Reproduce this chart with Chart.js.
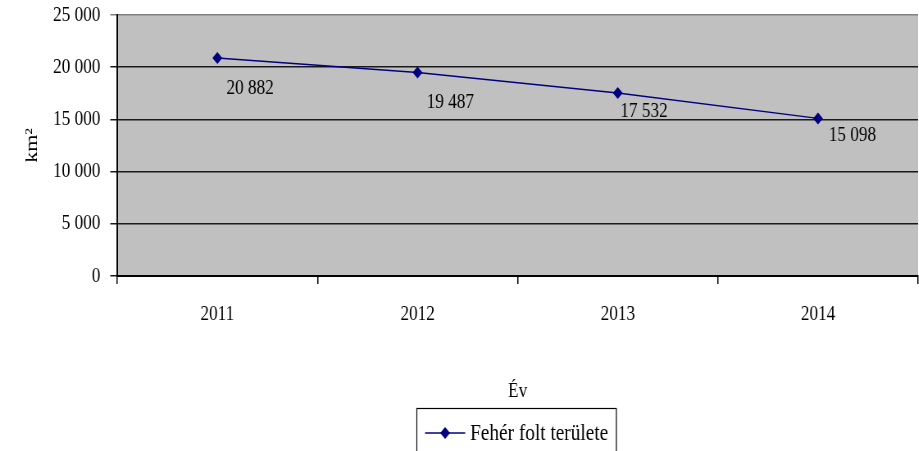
<!DOCTYPE html>
<html>
<head>
<meta charset="utf-8">
<script src="https://cdn.jsdelivr.net/npm/chart.js@4/dist/chart.umd.min.js"></script>
<style>
  html, body { margin: 0; padding: 0; background: #fff; overflow: hidden; }
  /* the original picture is squeezed sideways, so the canvas is drawn wider and shrunk */
  #chart { display: block; width: 923px !important; height: 451px !important; }
</style>
</head>
<body>
<canvas id="chart" width="1126" height="451"></canvas>
<script>
// data
const years = ['2011', '2012', '2013', '2014'];
const feherFolt = [20882, 19487, 17532, 15098];
const seriesName = 'Fehér folt területe';
const yTicks = [0, 5000, 10000, 15000, 20000, 25000];

const FONT = "'Liberation Serif', 'Times New Roman', serif";
const FSIZE = 21;
const NAVY = '#000080';

// 20882 -> "20 882"
function fmt(v) {
    return String(v).replace(/\B(?=(\d{3})+(?!\d))/g, ' ');
}

// grey plot background
const plotBg = {
    id: 'plotBg',
    beforeDraw(chart) {
        const { ctx, chartArea: a } = chart;
        ctx.save();
        ctx.fillStyle = '#c0c0c0';
        ctx.fillRect(a.left, a.top, a.right - a.left, a.bottom - a.top);
        ctx.restore();
    }
};

// value labels below/right of each point (shift in canvas px)
const labelShift = [[11, 30], [11, 30], [3, 19], [13, 17]];
const pointLabels = {
    id: 'pointLabels',
    afterDatasetsDraw(chart) {
        const ctx = chart.ctx;
        const meta = chart.getDatasetMeta(0);
        ctx.save();
        ctx.font = FSIZE + 'px ' + FONT;
        ctx.fillStyle = '#000';
        ctx.textAlign = 'left';
        ctx.textBaseline = 'middle';
        meta.data.forEach((pt, i) => {
            const s = labelShift[i] || [10, 20];
            ctx.fillText(fmt(chart.data.datasets[0].data[i]), pt.x + s[0], pt.y + s[1]);
        });
        ctx.restore();
    }
};

// excel style legend box: line + diamond + name
const boxLegend = {
    id: 'boxLegend',
    afterDraw(chart) {
        const ctx = chart.ctx;
        const ds = chart.data.datasets[0];
        const a = chart.chartArea;
        ctx.save();
        ctx.font = '23.5px ' + FONT;
        const tw = ctx.measureText(ds.label).width;
        const w = 10 + 49 + 6 + tw + 10;
        const x0 = Math.round((a.left + a.right) / 2 - w / 2 - 2) + 0.5;
        const y0 = 408.5;
        const cy = 433;
        ctx.strokeStyle = '#000';
        ctx.lineWidth = 1.2;
        ctx.strokeRect(x0, y0, w, 60);
        ctx.strokeStyle = ds.borderColor;
        ctx.lineWidth = 1.5;
        ctx.beginPath();
        ctx.moveTo(x0 + 10, cy);
        ctx.lineTo(x0 + 59, cy);
        ctx.stroke();
        ctx.fillStyle = ds.pointBackgroundColor;
        ctx.beginPath();
        ctx.moveTo(x0 + 34.5, cy - 6);
        ctx.lineTo(x0 + 40.5, cy);
        ctx.lineTo(x0 + 34.5, cy + 6);
        ctx.lineTo(x0 + 28.5, cy);
        ctx.closePath();
        ctx.fill();
        ctx.fillStyle = '#000';
        ctx.textBaseline = 'middle';
        ctx.fillText(ds.label, x0 + 65, cy + 1);
        ctx.restore();
    }
};

new Chart(document.getElementById('chart'), {
    type: 'line',
    data: {
        labels: years,
        datasets: [{
            label: seriesName,
            data: feherFolt,
            borderColor: NAVY,
            borderWidth: 1.5,
            backgroundColor: NAVY,
            pointBackgroundColor: NAVY,
            pointBorderColor: NAVY,
            pointStyle: 'rectRot',
            pointRadius: 6,
            pointBorderWidth: 0,
            tension: 0
        }]
    },
    options: {
        responsive: false,
        devicePixelRatio: 1,
        animation: false,
        events: [],
        layout: { padding: { top: 15, right: 0, bottom: 0, left: 0 } },
        plugins: {
            legend: { display: false },
            tooltip: { enabled: false }
        },
        scales: {
            x: {
                offset: true,
                afterFit: s => { s.height = 175; s.paddingLeft = 0; s.paddingRight = 0; },
                grid: {
                    offset: true,
                    drawOnChartArea: false,
                    drawTicks: true,
                    tickLength: 8,
                    color: '#000',
                    lineWidth: 1.5
                },
                border: { color: '#000', width: 2 },
                ticks: {
                    color: '#000',
                    padding: 18,
                    maxRotation: 0,
                    font: { family: FONT, size: FSIZE }
                },
                title: {
                    display: true,
                    text: 'Év',
                    color: '#000',
                    font: { family: FONT, size: FSIZE },
                    padding: { top: 0, bottom: 47 }
                }
            },
            y: {
                min: 0,
                max: 25000,
                afterFit: s => { s.width = 143; s.paddingTop = 0; s.paddingBottom = 0; },
                afterBuildTicks: s => { s.ticks = yTicks.map(v => ({ value: v })); },
                grid: {
                    color: ctx => ctx.tick && ctx.tick.value === 25000 ? '#808080' : '#1a1a1a',
                    lineWidth: 1.5,
                    tickLength: 8.5,
                    drawTicks: true
                },
                border: { color: '#000', width: 2 },
                ticks: {
                    color: '#000',
                    padding: 12,
                    font: { family: FONT, size: FSIZE },
                    callback: v => fmt(v)
                },
                title: {
                    display: true,
                    text: 'km²',
                    color: '#000',
                    font: { family: FONT, size: 22 },
                    padding: { top: 26, bottom: 0 }
                }
            }
        }
    },
    plugins: [plotBg, pointLabels, boxLegend]
});
</script>
</body>
</html>
